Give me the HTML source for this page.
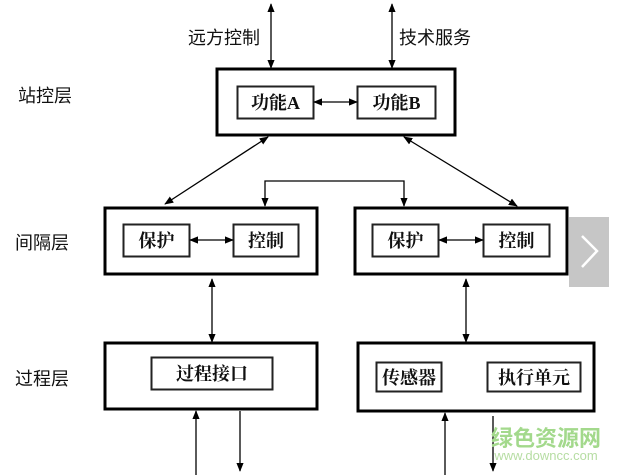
<!DOCTYPE html>
<html><head><meta charset="utf-8"><style>
html,body{margin:0;padding:0;background:#fff;}
svg{display:block;}
text{font-family:"Liberation Serif","Noto Serif CJK SC","Noto Sans CJK SC",serif;fill:#111;}
.s{font-family:"Liberation Sans","Noto Sans CJK SC",sans-serif;}
</style></head><body>
<svg width="624" height="475" viewBox="0 0 624 475" xmlns="http://www.w3.org/2000/svg">
<defs>
<marker id="a" viewBox="0 0 10 10" refX="9" refY="5" markerWidth="7" markerHeight="7" orient="auto-start-reverse"><path d="M0,1 L10,5 L0,9 z" fill="#000"/></marker>
</defs>
<g fill="none" stroke="#000">
<rect x="217" y="69" width="238" height="66" stroke-width="3"/>
<rect x="237.5" y="86.5" width="76" height="32" stroke-width="2" stroke="#222"/>
<rect x="357.5" y="86.5" width="78" height="32" stroke-width="2" stroke="#222"/>
<rect x="105" y="208" width="212" height="66" stroke-width="3"/>
<rect x="123.5" y="224.5" width="66" height="32" stroke-width="2" stroke="#222"/>
<rect x="233.5" y="224.5" width="65" height="32" stroke-width="2" stroke="#222"/>
<rect x="355" y="208" width="212" height="66" stroke-width="3"/>
<rect x="372.5" y="224.5" width="66" height="32" stroke-width="2" stroke="#222"/>
<rect x="483.5" y="224.5" width="66" height="32" stroke-width="2" stroke="#222"/>
<rect x="105" y="343" width="212" height="66" stroke-width="3"/>
<rect x="151.5" y="357.5" width="121" height="32" stroke-width="2" stroke="#222"/>
<rect x="358" y="343" width="236" height="68" stroke-width="3"/>
<rect x="376.5" y="362.5" width="65" height="29" stroke-width="2" stroke="#222"/>
<rect x="487.5" y="362.5" width="93" height="29" stroke-width="2" stroke="#222"/>
<g stroke-width="1.3" marker-start="url(#a)" marker-end="url(#a)">
<line x1="271" y1="4" x2="271" y2="68"/>
<line x1="392" y1="4" x2="392" y2="68"/>
<line x1="314" y1="102" x2="357" y2="102"/>
<line x1="268" y1="137" x2="165" y2="204"/>
<line x1="404" y1="137" x2="517" y2="206"/>
<line x1="190" y1="240" x2="233" y2="240"/>
<line x1="439" y1="240" x2="483" y2="240"/>
<line x1="212" y1="279" x2="212" y2="342"/>
<line x1="466" y1="279" x2="466" y2="342"/>
</g>
<polyline points="265,206 265,181 404,181 404,206" stroke-width="1.3" marker-start="url(#a)" marker-end="url(#a)"/>
<g stroke-width="1.3" marker-end="url(#a)">
<line x1="196" y1="475" x2="196" y2="411"/>
<line x1="240" y1="411" x2="240" y2="471"/>
<line x1="445" y1="475" x2="445" y2="413"/>
<line x1="493" y1="416" x2="493" y2="471"/>
</g>
</g>
<g font-size="18" class="s">
<text x="188" y="44" class="s">远方控制</text>
<text x="399" y="44" class="s">技术服务</text>
<text x="18" y="102" class="s">站控层</text>
<text x="15" y="249" class="s">间隔层</text>
<text x="15" y="385" class="s">过程层</text>
</g>
<g font-size="18" font-weight="bold">
<text x="275.5" y="109" text-anchor="middle">功能A</text>
<text x="396.5" y="109" text-anchor="middle">功能B</text>
<text x="156.5" y="247" text-anchor="middle">保护</text>
<text x="266" y="247" text-anchor="middle">控制</text>
<text x="405.5" y="247" text-anchor="middle">保护</text>
<text x="516.5" y="247" text-anchor="middle">控制</text>
<text x="212" y="380" text-anchor="middle">过程接口</text>
<text x="409" y="384" text-anchor="middle">传感器</text>
<text x="534" y="384" text-anchor="middle">执行单元</text>
</g>
<rect x="569" y="217" width="40" height="70" fill="#c6c6c6"/>
<polyline points="582,236 597,251 582,267" fill="none" stroke="#fff" stroke-width="2.5"/>
<text x="546" y="446" font-size="22" font-weight="bold" text-anchor="middle" class="s" style="fill:#a3d98c">绿色资源网</text>
<text x="546" y="460" font-size="13" text-anchor="middle" class="s" style="fill:#b6dda3">www.downcc.com</text>
</svg>
</body></html>
